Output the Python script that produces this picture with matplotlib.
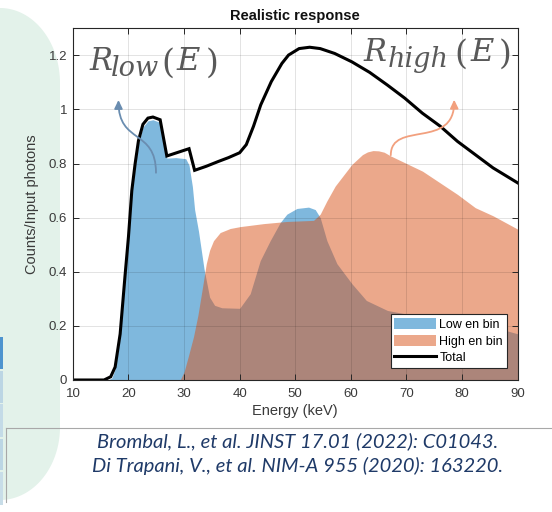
import numpy as np
import matplotlib
matplotlib.use("Agg")
import matplotlib.pyplot as plt
from matplotlib.path import Path
from matplotlib.patches import PathPatch, Rectangle, FancyArrowPatch
from matplotlib.lines import Line2D

# ---------------- data ----------------
total_E = [10, 15.6, 16.8, 17.6, 18.5, 19.4, 20.0, 20.6, 21.2, 21.8, 22.6, 23.5, 24.4,
           25.7, 26.9, 30.9, 31.9, 34.0, 36.2, 38.0, 40.0, 41.2, 42.5, 43.8, 45.7, 47.6,
           48.8, 50.7, 52.6, 54.5, 57.1, 60.2, 63.4, 66.6, 69.7, 72.9, 76.1, 79.2, 82.4,
           85.6, 90]
total = [0, 0, 0.012, 0.048, 0.17, 0.39, 0.53, 0.70, 0.80, 0.885, 0.945, 0.968, 0.972,
         0.962, 0.828, 0.855, 0.775, 0.79, 0.808, 0.822, 0.840, 0.870, 0.938, 1.017, 1.103,
         1.170, 1.201, 1.225, 1.230, 1.225, 1.207, 1.176, 1.137, 1.090, 1.042, 0.986, 0.938,
         0.882, 0.833, 0.784, 0.729]

low_E = [10, 16.3, 17.0, 17.6, 18.5, 19.4, 20.0, 20.6, 21.2, 21.8, 22.6, 23.5, 24.4, 25.7,
         26.9, 28.5, 30.3, 30.9, 31.5, 31.9, 32.6, 33.6, 34.6, 35.5, 36.8, 40.0, 41.9, 43.7,
         45.5, 47.3, 48.5, 50.3, 52.4, 53.6, 54.5, 55.7, 57.5, 60.2, 62.8, 66.6, 69.7, 72.9,
         79.2, 85.6, 90]
low = [0, 0, 0.008, 0.04, 0.16, 0.38, 0.52, 0.69, 0.79, 0.875, 0.935, 0.958, 0.962, 0.952,
       0.82, 0.822, 0.818, 0.794, 0.715, 0.63, 0.55, 0.41, 0.306, 0.276, 0.267, 0.265, 0.319,
       0.441, 0.515, 0.582, 0.613, 0.634, 0.639, 0.63, 0.60, 0.515, 0.43, 0.356, 0.294, 0.257,
       0.245, 0.239, 0.22, 0.196, 0.171]

high_E = [10, 29.3, 30.0, 30.8, 31.7, 32.5, 33.3, 34.0, 34.6, 35.3, 36.5, 38.3, 40.1, 44.3,
          48.5, 53.3, 54.5, 55.7, 57.2, 60.2, 62.1, 63.0, 64.0, 65.0, 66.0, 67.2, 72.9, 79.2,
          82.4, 85.6, 90]
high = [0, 0, 0.03, 0.09, 0.16, 0.24, 0.34, 0.43, 0.48, 0.515, 0.545, 0.56, 0.567, 0.578,
        0.586, 0.59, 0.613, 0.662, 0.717, 0.797, 0.833, 0.843, 0.848, 0.847, 0.842, 0.828,
        0.772, 0.686, 0.637, 0.607, 0.558]

x_ticks = [10, 20, 30, 40, 50, 60, 70, 80, 90]
y_ticks = [0, 0.2, 0.4, 0.6, 0.8, 1.0, 1.2]
y_tick_labels = ["0", "0.2", "0.4", "0.6", "0.8", "1", "1.2"]
series_labels = ["Low en bin", "High en bin", "Total"]
title = "Realistic response"
xlabel = "Energy (keV)"
ylabel = "Counts/Input photons"
citations = ["Brombal, L., et al. JINST 17.01 (2022): C01043.",
             "Di Trapani, V., et al. NIM-A 955 (2020): 163220."]

# ---------------- figure ----------------
W, H = 552, 512
fig = plt.figure(figsize=(W / 100, H / 100), dpi=100)
fig.patch.set_facecolor("white")

# background (slide) decorations in pixel coordinates
bg = fig.add_axes([0, 0, 1, 1], zorder=-10)
bg.set_xlim(0, W)
bg.set_ylim(H, 0)
bg.axis("off")
th = np.linspace(0, np.pi / 2, 40)
arc_top = np.column_stack([60 * np.sin(th), 83 - 75 * np.cos(th)])
arc_bot = np.column_stack([60 * np.cos(th), 427 + 73 * np.sin(th)])
verts = np.vstack([[[-5, 8]], arc_top, arc_bot, [[-5, 500], [-5, 8]]])
bg.add_patch(PathPatch(Path(verts), facecolor="#e3f2ea", edgecolor="none"))
cells = [(336.7, 369.3, "#4e94cf"), (371, 402.7, "#bcd6e4"), (404, 437, "#c4dbe7"),
         (438.7, 470, "#bcd6e4"), (471.7, 505, "#c8dde8")]
for y0, y1, c in cells:
    bg.add_patch(Rectangle((0, y0), 3.4, y1 - y0, facecolor=c, edgecolor="none"))
bg.plot([5.5, W], [427.5, 427.5], color="#a8a8a8", lw=0.8)
bg.plot([5.5, 5.5], [427.5, 502], color="#a8a8a8", lw=0.8)

# main axes
ax_l, ax_r, ax_t, ax_b = 72.9, 517.5, 28.3, 380.0
ax = fig.add_axes([ax_l / W, (H - ax_b) / H, (ax_r - ax_l) / W, (ax_b - ax_t) / H])
ax.set_facecolor("white")

blue = "#0072BD"
orange = "#D95319"
ax.fill_between(low_E, low, 0, color=blue, alpha=0.5, lw=0, zorder=1)
ax.fill_between(high_E, high, 0, color=orange, alpha=0.5, lw=0, zorder=2)
ax.plot(total_E, total, color="black", lw=2.2, zorder=4, solid_joinstyle="miter")

ax.set_xlim(10, 90)
ax.set_ylim(0, 1.3)
ax.set_xticks(x_ticks)
ax.set_yticks(y_ticks)
ax.set_yticklabels(y_tick_labels)
ax.grid(True, color="black", alpha=0.13, lw=0.6)
ax.set_axisbelow(False)
axc = "#262626"
for s in ax.spines.values():
    s.set_color(axc)
    s.set_linewidth(0.8)
    s.set_zorder(5)
ax.tick_params(direction="in", length=4, width=0.7, colors=axc, top=True, right=True,
               labelsize=9.5)
ax.tick_params(axis="x", pad=6)
ax.tick_params(axis="y", pad=4)
for lab in ax.get_xticklabels() + ax.get_yticklabels():
    lab.set_color("#3a3a3a")
    lab.set_fontfamily("Liberation Sans")

ax.set_title(title, fontfamily="Liberation Sans", fontweight="bold", fontsize=10.5,
             color="#111111", pad=6)
ax.set_xlabel(xlabel, fontfamily="Liberation Sans", fontsize=10.5, color="#3a3a3a", labelpad=3)
ax.set_ylabel(ylabel, fontfamily="Liberation Sans", fontsize=10.5, color="#3a3a3a", labelpad=7)

handles = [Rectangle((0, 0), 1, 1, facecolor=blue, alpha=0.5, lw=0),
           Rectangle((0, 0), 1, 1, facecolor=orange, alpha=0.5, lw=0),
           Line2D([], [], color="black", lw=2.2)]
leg = ax.legend(handles, series_labels, loc="lower right", bbox_to_anchor=(0.9757, 0.034),
                borderaxespad=0, fancybox=False, framealpha=1, edgecolor=axc,
                prop={"family": "Liberation Sans", "size": 9}, handlelength=3.3,
                handleheight=1.0, handletextpad=0.3, labelspacing=0.3, borderpad=0.3)
leg.get_frame().set_linewidth(0.8)
leg.set_zorder(6)

# annotations R_low(E), R_high(E) built from pieces (pixel positions)
gray = "#595959"
ffam = "DejaVu Serif"
def put(x, y, s, size, italic=True, ha="left"):
    fig.text(x / W, 1 - y / H, s, fontsize=size, color=gray, family=ffam,
             style="italic" if italic else "normal", ha=ha, va="baseline")

# (R x, baseline, subscript, sub x, "(" left, E centre, ")" right)
for (xR, yb, sub, xs, xo, xE, xc) in [(89, 70, "low", 111, 161, 188, 218.5),
                                      (363, 61, "high", 388, 454, 482, 512)]:
    put(xR, yb, "R", 22)
    put(xs, yb + 6, sub, 19.5)
    put(xo, yb + 3, "(", 24, italic=False)
    put(xE, yb, "E", 23, ha="center")
    put(xc, yb + 3, ")", 24, italic=False, ha="right")

# curved arrows (cubic Bezier in data coordinates)
blue_arrow = [(24.95, 0.766), (24.95, 0.93), (18.2, 0.87), (18.2, 1.035)]
orange_arrow = [(67.2, 0.831), (67.2, 0.96), (78.7, 0.85), (78.6, 1.036)]
codes = [Path.MOVETO, Path.CURVE4, Path.CURVE4, Path.CURVE4]
for pts, col in [(blue_arrow, "#6a8db0"), (orange_arrow, "#f2a07e")]:
    arr = FancyArrowPatch(path=Path(pts, codes), transform=ax.transData,
                          arrowstyle="-|>,head_length=5,head_width=2.4", color=col,
                          lw=1.3, zorder=7, mutation_scale=1)
    ax.add_patch(arr)

# citations
cit_color = "#1f3a68"
for txt, yc in zip(citations, [447, 472]):
    fig.text(298 / W, 1 - yc / H, txt, fontfamily="Lato", style="italic", fontsize=14.5,
             color=cit_color, ha="center", va="baseline")

fig.savefig("out.png", dpi=100)
